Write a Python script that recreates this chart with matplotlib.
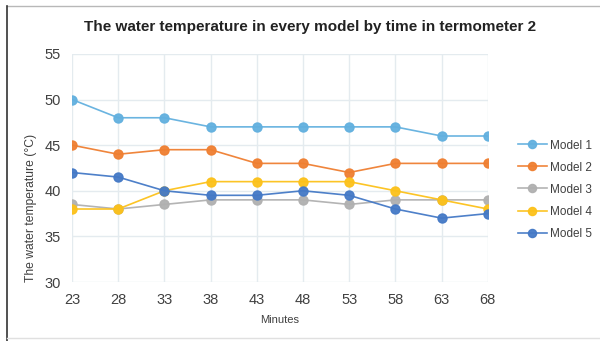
import matplotlib.pyplot as plt
from matplotlib.lines import Line2D

plt.rcParams['font.family'] = ['Liberation Sans', 'DejaVu Sans']

# ----------
# data
# ----------
minutes = [23, 28, 33, 38, 43, 48, 53, 58, 63, 68]
model_1 = [50, 48, 48, 47, 47, 47, 47, 47, 46, 46]
model_2 = [45, 44, 44.5, 44.5, 43, 43, 42, 43, 43, 43]
model_3 = [38.5, 38, 38.5, 39, 39, 39, 38.5, 39, 39, 39]
model_4 = [38, 38, 40, 41, 41, 41, 41, 40, 39, 38]
model_5 = [42, 41.5, 40, 39.5, 39.5, 40, 39.5, 38, 37, 37.5]

series = [("Model 1", model_1, "#62b0df"),
          ("Model 2", model_2, "#ef7f31"),
          ("Model 3", model_3, "#b0b0b0"),
          ("Model 4", model_4, "#fcc11a"),
          ("Model 5", model_5, "#4479c6")]

fig = plt.figure(figsize=(6, 3.41), dpi=100)
ax = fig.add_axes([0.12, 0.173, 0.693, 0.669])

for name, vals, col in series:
    ax.plot(minutes, vals, color=col, linewidth=1.2, marker='o',
            markersize=6.5, label=name, alpha=0.95)

ax.set_xlim(23, 68)
ax.set_ylim(30, 55)
ax.set_xticks(minutes)
ax.set_yticks([30, 35, 40, 45, 50, 55])
ax.grid(True, color='#e4ebef', linewidth=1)
ax.set_axisbelow(True)
for s in ax.spines.values():
    s.set_visible(False)
ax.tick_params(length=0, labelsize=10.5, colors='#404040', pad=8)

fig.text(0.517, 1 - 27 / 341,
         "The water temperature in every model by time in termometer 2",
         fontsize=11, fontweight='bold', color='#222222',
         ha='center', va='center')
ax.set_xlabel("Minutes", fontsize=8, color='#404040', labelpad=6)
ax.set_ylabel("The water temperature (\u00b0C)", fontsize=8.7,
              color='#404040')
ax.yaxis.set_label_coords(-0.084, 0.325)

ax.legend(loc='center left', bbox_to_anchor=(1.072, 0.405), frameon=False,
          borderaxespad=0, borderpad=0,
          fontsize=8.5, labelspacing=0.85, handlelength=2.5,
          handletextpad=0.25, labelcolor='#404040', markerscale=0.9)

# frame around the picture
fig.add_artist(Line2D([0.012, 1.0], [0.982, 0.982], color='#b8b8b8',
                      linewidth=1, transform=fig.transFigure))
fig.add_artist(Line2D([0.012, 0.012], [0.0, 0.982], color='#333333',
                      linewidth=1.2, transform=fig.transFigure))
fig.add_artist(Line2D([0.012, 1.0], [0.008, 0.008], color='#e0e0e0',
                      linewidth=1, transform=fig.transFigure))

fig.savefig("out.png", dpi=100)
